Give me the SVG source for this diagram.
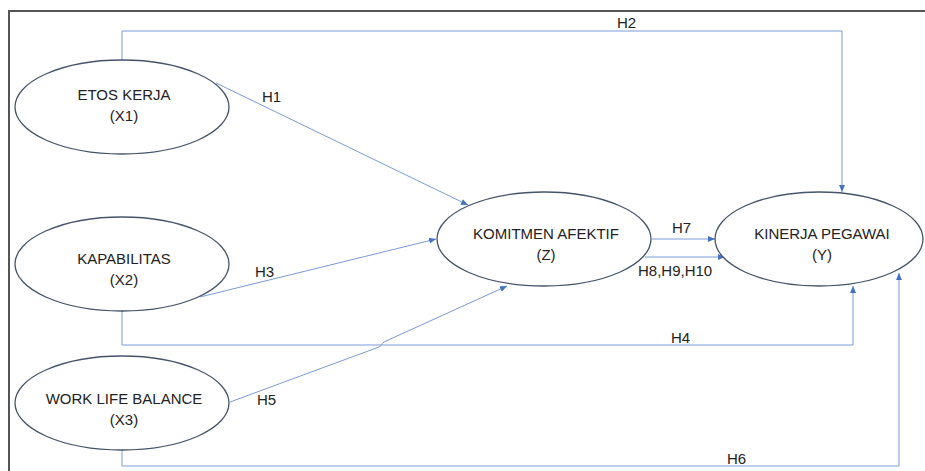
<svg xmlns="http://www.w3.org/2000/svg" width="925" height="471" viewBox="0 0 925 471">
<defs>
<marker id="ah" markerWidth="8" markerHeight="8" refX="7" refY="4" orient="auto" markerUnits="userSpaceOnUse">
<path d="M0,1 L7,4 L0,7 z" fill="#4472C4"/>
</marker>
<style>
.n ellipse{fill:#fff;stroke:#44546A;stroke-width:1.3}
text{font-family:"Liberation Sans","Open Sans",sans-serif;font-size:15px;fill:#222}
.n text{text-anchor:middle}
.c path{fill:none;stroke:#7A9AD8;stroke-width:1;marker-end:url(#ah)}
</style>
</defs>
<rect width="925" height="471" fill="#fff"/>
<path d="M9,471 L9,11 L925,11" fill="none" stroke="#555" stroke-width="2"/>
<g class="c" id="connectors">
<path d="M122,60 L122,31 L842,31 L842,192"/>
<path d="M216,83 L468,205"/>
<path d="M200,297 L436,239"/>
<path d="M122,311 L122,345 L853,345 L853,286"/>
<path d="M230,402 L379,347 C383,345 382,342 386,341 L507,286"/>
<path d="M122,449 L122,466 L899,466 L899,273"/>
<path d="M652,239 L715,239"/>
<path d="M645,257 L725,257"/>
</g>
<g id="labels">
<text x="617" y="28">H2</text>
<text x="262" y="102">H1</text>
<text x="255" y="277">H3</text>
<text x="671" y="343">H4</text>
<text x="257" y="405">H5</text>
<text x="727" y="464">H6</text>
<text x="672" y="233">H7</text>
<text x="638" y="276">H8,H9,H10</text>
</g>
<g class="n" id="x1"><ellipse cx="122" cy="107" rx="107" ry="47"/><text x="124" y="100">ETOS KERJA</text><text x="124" y="121">(X1)</text></g>
<g class="n" id="x2"><ellipse cx="122" cy="264" rx="107" ry="47"/><text x="124" y="264">KAPABILITAS</text><text x="124" y="285">(X2)</text></g>
<g class="n" id="x3"><ellipse cx="122" cy="403" rx="107" ry="47"/><text x="124" y="404">WORK LIFE BALANCE</text><text x="124" y="425">(X3)</text></g>
<g class="n" id="z"><ellipse cx="544" cy="239" rx="107" ry="47"/><text x="546" y="239">KOMITMEN AFEKTIF</text><text x="546" y="260">(Z)</text></g>
<g class="n" id="y"><ellipse cx="819" cy="239" rx="104" ry="47"/><text x="822" y="239">KINERJA PEGAWAI</text><text x="822" y="260">(Y)</text></g>
</svg>
